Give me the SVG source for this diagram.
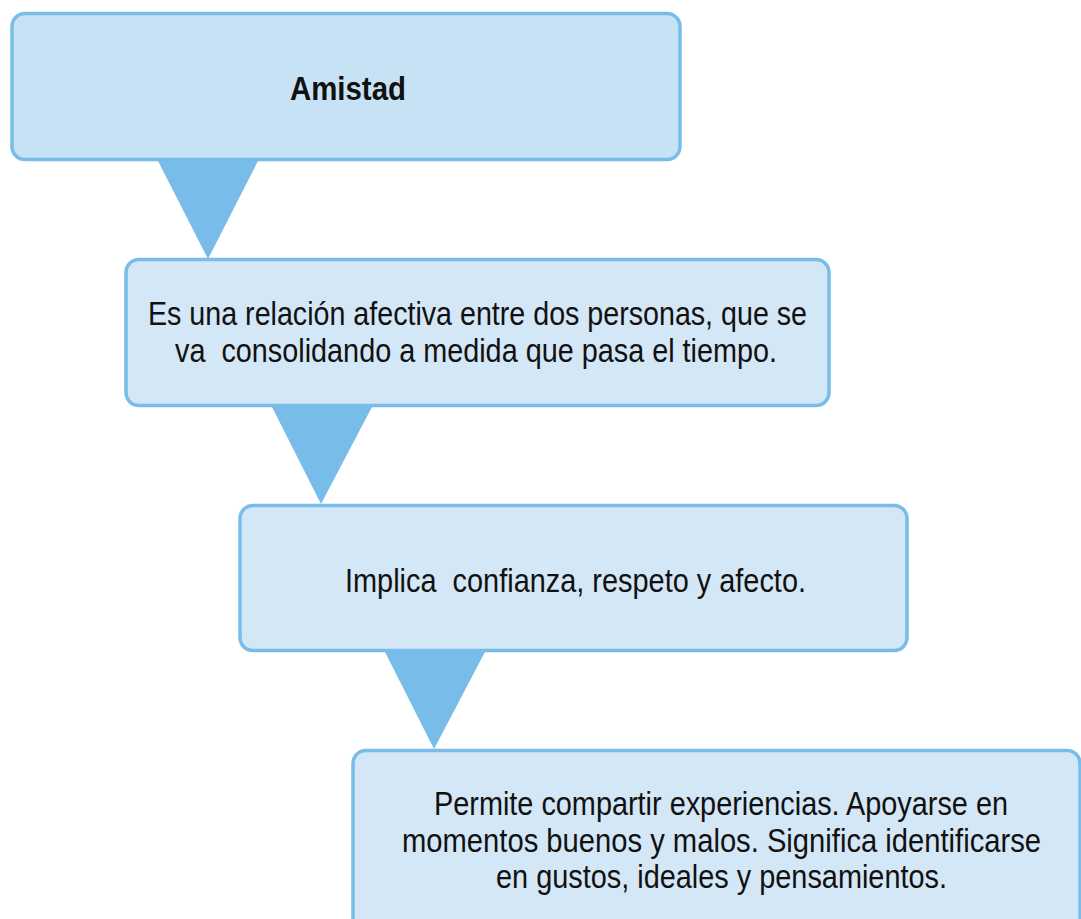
<svg xmlns="http://www.w3.org/2000/svg" width="1081" height="919" viewBox="0 0 1081 919">
<style>
.box{stroke:#78BDE9;stroke-width:3.5}
.b1{fill:#C8E2F5}
.b2{fill:#D4E7F6}
.tri{fill:#78BDE9}
text{font-family:"Liberation Sans",Arial,sans-serif;fill:#111;font-size:33px}
.bold{font-weight:bold;font-size:34px}
</style>
<g id="connectors">
<path class="tri" d="M157,159 L259,159 L208,259 Z"/>
<path class="tri" d="M271,405 L373,405 L321,504 Z"/>
<path class="tri" d="M384,650 L486,650 L434,749 Z"/>
</g>
<g id="n1">
<rect class="box b1" x="12" y="13.5" width="668" height="146" rx="13"/>
<text class="bold" transform="translate(290,100) scale(0.87,1)" x="0" y="0" textLength="133.3" lengthAdjust="spacingAndGlyphs">Amistad</text>
</g>
<g id="n2">
<rect class="box b2" x="126" y="259.5" width="703" height="146" rx="13"/>
<text transform="translate(148,325) scale(0.87,1)" x="0" y="0" textLength="757.5" lengthAdjust="spacingAndGlyphs">Es una relación afectiva entre dos personas, que se</text>
<text transform="translate(175,362) scale(0.87,1)" x="0" y="0" textLength="692" lengthAdjust="spacingAndGlyphs" xml:space="preserve">va  consolidando a medida que pasa el tiempo.</text>
</g>
<g id="n3">
<rect class="box b2" x="240" y="505.5" width="667" height="145" rx="13"/>
<text transform="translate(345,592) scale(0.87,1)" x="0" y="0" textLength="529.9" lengthAdjust="spacingAndGlyphs" xml:space="preserve">Implica  confianza, respeto y afecto.</text>
</g>
<g id="n4">
<rect class="box b2" x="353" y="750.5" width="727" height="200" rx="13"/>
<text transform="translate(434,815) scale(0.87,1)" x="0" y="0" textLength="659.8" lengthAdjust="spacingAndGlyphs">Permite compartir experiencias. Apoyarse en</text>
<text transform="translate(402,852) scale(0.87,1)" x="0" y="0" textLength="734.5" lengthAdjust="spacingAndGlyphs">momentos buenos y malos. Significa identificarse</text>
<text transform="translate(496,888) scale(0.87,1)" x="0" y="0" textLength="518.4" lengthAdjust="spacingAndGlyphs">en gustos, ideales y pensamientos.</text>
</g>
</svg>
